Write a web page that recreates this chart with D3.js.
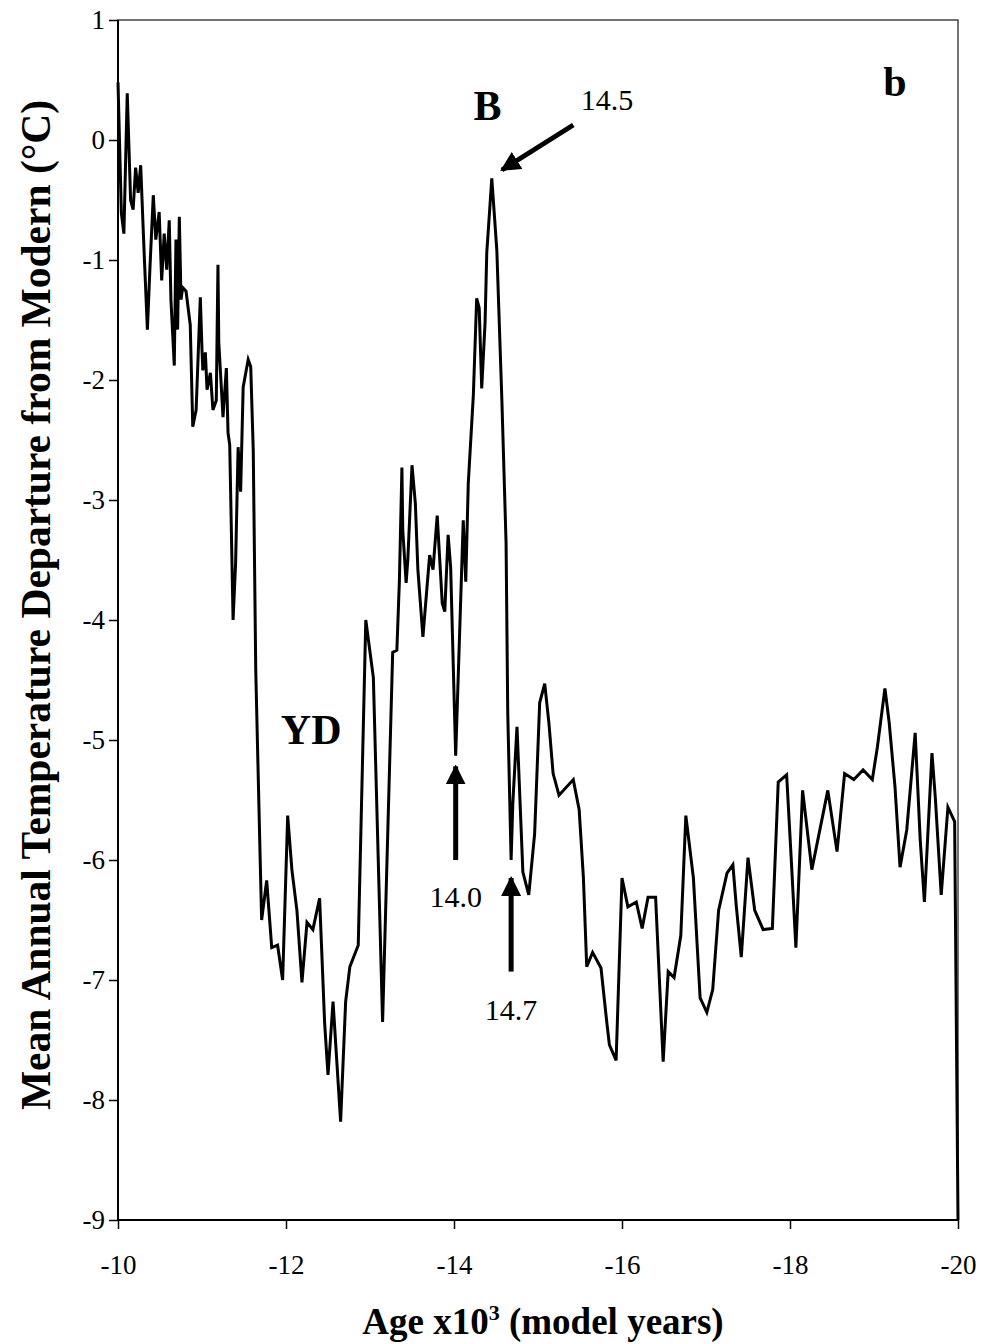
<!DOCTYPE html>
<html>
<head>
<meta charset="utf-8">
<script src="https://cdn.jsdelivr.net/npm/d3@7"></script>
<style>
  body { margin: 0; background: #fff; }
  svg { display: block; font-family: "Liberation Serif", "DejaVu Serif", serif; }
  .axis line { stroke: #000; stroke-width: 1.5; }
</style>
</head>
<body>
<svg class="chart"></svg>
<script>
// values (age in kyr, temperature departure in deg C)
var ages = [-10.00, -10.04, -10.07, -10.11, -10.15, -10.18, -10.21, -10.24, -10.27, -10.31,
  -10.35, -10.38, -10.42, -10.45, -10.49, -10.52, -10.55, -10.58, -10.61, -10.63,
  -10.67, -10.69, -10.71, -10.73, -10.75, -10.77, -10.81, -10.86, -10.89, -10.93,
  -10.98, -11.00, -11.01, -11.04, -11.06, -11.10, -11.13, -11.17, -11.19, -11.20,
  -11.25, -11.29, -11.31, -11.33, -11.37, -11.40, -11.43, -11.46, -11.49, -11.55,
  -11.58, -11.61, -11.64, -11.69, -11.71, -11.77, -11.83, -11.90, -11.96, -12.02,
  -12.07, -12.13, -12.19, -12.25, -12.32, -12.40, -12.46, -12.50, -12.56, -12.65,
  -12.71, -12.76, -12.86, -12.95, -13.04, -13.15, -13.27, -13.32, -13.35, -13.38,
  -13.39, -13.43, -13.45, -13.50, -13.54, -13.57, -13.63, -13.71, -13.75, -13.80,
  -13.86, -13.89, -13.93, -13.96, -14.02, -14.11, -14.14, -14.17, -14.23, -14.27,
  -14.30, -14.33, -14.37, -14.39, -14.45, -14.51, -14.57, -14.62, -14.64, -14.68,
  -14.70, -14.75, -14.82, -14.89, -14.96, -15.02, -15.08, -15.13, -15.18, -15.25,
  -15.42, -15.49, -15.54, -15.58, -15.65, -15.75, -15.82, -15.85, -15.93, -16.00,
  -16.07, -16.17, -16.24, -16.31, -16.40, -16.49, -16.55, -16.62, -16.70, -16.76,
  -16.85, -16.93, -17.01, -17.08, -17.15, -17.25, -17.32, -17.36, -17.42, -17.50,
  -17.58, -17.68, -17.79, -17.86, -17.96, -18.02, -18.07, -18.15, -18.26, -18.45,
  -18.56, -18.65, -18.76, -18.87, -18.98, -19.04, -19.13, -19.18, -19.25, -19.31,
  -19.39, -19.49, -19.55, -19.60, -19.69, -19.73, -19.80, -19.88, -19.96, -20.00];

var temps = [0.48, -0.61, -0.78, 0.39, -0.50, -0.58, -0.23, -0.44, -0.21, -0.92,
  -1.58, -1.07, -0.46, -0.83, -0.60, -1.17, -0.78, -1.08, -0.67, -1.33,
  -1.88, -0.83, -1.58, -0.64, -1.33, -1.23, -1.26, -1.54, -2.39, -2.25,
  -1.31, -1.75, -1.92, -1.77, -2.08, -1.94, -2.25, -2.17, -1.04, -1.69,
  -2.31, -1.90, -2.44, -2.54, -4.00, -3.53, -2.56, -2.93, -2.06, -1.83,
  -1.89, -2.58, -4.42, -5.92, -6.50, -6.17, -6.73, -6.71, -7.00, -5.63,
  -6.08, -6.42, -7.02, -6.52, -6.58, -6.32, -7.36, -7.79, -7.18, -8.18,
  -7.18, -6.89, -6.71, -4.00, -4.48, -7.35, -4.27, -4.25, -3.67, -2.73,
  -3.25, -3.69, -3.50, -2.71, -3.03, -3.58, -4.14, -3.46, -3.58, -3.13,
  -3.86, -3.93, -3.29, -3.56, -5.13, -3.17, -3.68, -2.86, -2.13, -1.32,
  -1.40, -2.07, -1.52, -0.94, -0.32, -0.92, -2.17, -3.36, -4.78, -6.00,
  -5.53, -4.89, -6.10, -6.29, -5.78, -4.69, -4.53, -4.86, -5.28, -5.46,
  -5.33, -5.58, -6.14, -6.89, -6.77, -6.90, -7.36, -7.54, -7.67, -6.15,
  -6.39, -6.35, -6.57, -6.31, -6.31, -7.68, -6.93, -6.98, -6.63, -5.63,
  -6.15, -7.15, -7.27, -7.08, -6.42, -6.11, -6.04, -6.38, -6.81, -5.98,
  -6.42, -6.58, -6.57, -5.35, -5.29, -6.06, -6.73, -5.42, -6.08, -5.42,
  -5.93, -5.28, -5.33, -5.25, -5.33, -5.06, -4.57, -4.85, -5.39, -6.06,
  -5.75, -4.94, -5.83, -6.35, -5.11, -5.48, -6.29, -5.56, -5.68, -9.00];

var xTicks = [-10, -12, -14, -16, -18, -20];
var yTicks = [1, 0, -1, -2, -3, -4, -5, -6, -7, -8, -9];

var eventLabels = ["14.5", "14.0", "14.7"];

drawChart();

function drawChart() {
  var W = 986, H = 1344;
  var margin = {top: 20, right: 28, bottom: 124, left: 118},
      width = W - margin.left - margin.right,
      height = H - margin.top - margin.bottom;

  var serif = '"Liberation Serif", "DejaVu Serif", serif';

  var svg = d3.select(".chart")
      .attr("width", W)
      .attr("height", H);

  var g = svg.append("g")
      .attr("transform", "translate(" + margin.left + "," + margin.top + ")");

  var x = d3.scaleLinear().domain([-10, -20]).range([0, width]),
      y = d3.scaleLinear().domain([-9, 1]).range([height, 0]);

  var data = ages.map(function(a, i) { return {age: a, temp: temps[i]}; });

  // plot frame (top and right edges are lighter in the scan)
  g.append("rect")
      .attr("width", width)
      .attr("height", height)
      .attr("fill", "none")
      .attr("stroke", "#444")
      .attr("stroke-width", 1.5);

  // axes - font attrs set after .call, the axis overwrites them
  g.append("g")
      .attr("class", "x axis")
      .attr("transform", "translate(0," + height + ")")
      .call(d3.axisBottom(x).tickValues(xTicks).tickSize(9).tickPadding(26)
        .tickFormat(function(d) { return d; }))
      .attr("font-family", serif)
      .attr("font-size", 27)
    .call(function(s) { s.select(".domain").remove(); });

  g.append("line")
      .attr("x1", 0).attr("x2", width)
      .attr("y1", height).attr("y2", height)
      .attr("stroke", "#000").attr("stroke-width", 2);

  g.append("g")
      .attr("class", "y axis")
      .call(d3.axisLeft(y).tickValues(yTicks).tickSize(9).tickPadding(4)
        .tickFormat(function(d) { return d; }))
      .attr("font-family", serif)
      .attr("font-size", 27)
    .call(function(s) { s.select(".domain").remove(); });

  g.selectAll(".axis text").attr("fill", "#000");

  g.append("line")
      .attr("x1", 0).attr("x2", 0)
      .attr("y1", 0).attr("y2", height)
      .attr("stroke", "#000").attr("stroke-width", 2);

  // the series
  var line = d3.line()
      .x(function(d) { return x(d.age); })
      .y(function(d) { return y(d.temp); });

  g.append("path")
      .datum(data)
      .attr("fill", "none")
      .attr("stroke", "#000")
      .attr("stroke-width", 3)
      .attr("stroke-linejoin", "miter")
      .attr("d", line);

  // arrow heads
  svg.append("defs").append("marker")
      .attr("id", "head")
      .attr("viewBox", "0 0 10 10")
      .attr("refX", 9).attr("refY", 5)
      .attr("markerWidth", 4).attr("markerHeight", 4)
      .attr("orient", "auto")
    .append("path")
      .attr("d", "M0,0 L10,5 L0,10 Z")
      .attr("fill", "#000");

  var arrow = function(a1, t1, a2, t2) {
    g.append("line")
        .attr("x1", x(a1)).attr("y1", y(t1))
        .attr("x2", x(a2)).attr("y2", y(t2))
        .attr("stroke", "#000")
        .attr("stroke-width", 5)
        .attr("marker-end", "url(#head)");
  };

  var label = function(a, t, txt) {
    g.append("text")
        .attr("x", x(a)).attr("y", y(t))
        .attr("text-anchor", "middle")
        .attr("font-size", 30)
        .text(txt);
  };

  // 14.5 : diagonal arrow onto the B peak
  arrow(-15.42, 0.125, -14.57, -0.25);
  label(-15.82, 0.25, eventLabels[0]);

  // 14.0 and 14.7 : vertical arrows from below
  arrow(-14.02, -6.0, -14.02, -5.22);
  label(-14.02, -6.39, eventLabels[1]);

  arrow(-14.68, -6.93, -14.68, -6.15);
  label(-14.68, -7.33, eventLabels[2]);

  // period labels
  var big = function(a, t, txt) {
    g.append("text")
        .attr("x", x(a)).attr("y", y(t))
        .attr("text-anchor", "middle")
        .attr("font-size", 42).attr("font-weight", "bold")
        .text(txt);
  };
  big(-14.4, 0.17, "B");
  big(-12.3, -5.03, "YD");
  big(-19.25, 0.37, "b");

  // axis titles
  var xt = svg.append("text")
      .attr("x", margin.left + width / 2 + 5)
      .attr("y", 1334)
      .attr("text-anchor", "middle")
      .attr("font-size", 37).attr("font-weight", "bold");
  xt.append("tspan").text("Age x10");
  xt.append("tspan").attr("dy", -14).attr("font-size", 22).text("3");
  xt.append("tspan").attr("dy", 14).text(" (model years)");

  svg.append("text")
      .attr("transform", "translate(50," + (margin.top + height / 2 - 15) + ") rotate(-90)")
      .attr("text-anchor", "middle")
      .attr("font-size", 41.5).attr("font-weight", "bold")
      .text("Mean Annual Temperature Departure from Modern (°C)");
}
</script>
</body>
</html>
